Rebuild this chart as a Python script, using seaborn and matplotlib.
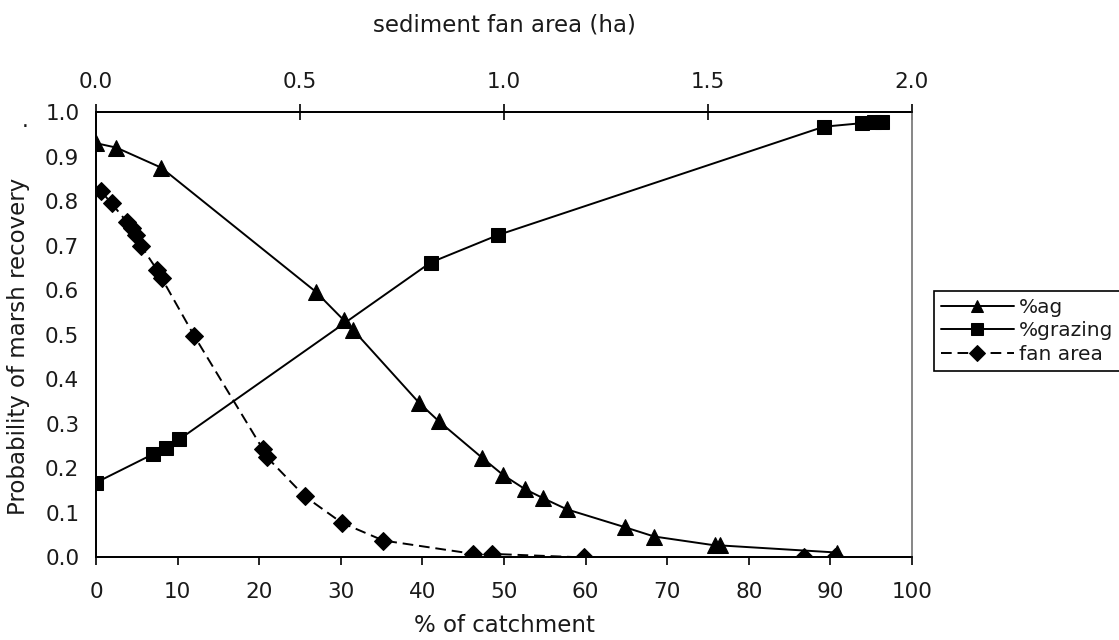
import numpy as np
import pandas as pd
import matplotlib
matplotlib.use("Agg")
import matplotlib.pyplot as plt
import seaborn as sns

# % of catchment -> probability, agricultural land
ag_pct = [0, 2.5, 8.0, 26.9, 30.4, 31.5, 39.6, 42.0, 47.3, 49.9, 52.6, 54.8,
          57.7, 64.8, 68.4, 75.9, 76.5, 90.8]
ag_prob = [0.930, 0.920, 0.875, 0.597, 0.532, 0.511, 0.347, 0.306, 0.224, 0.185,
           0.153, 0.133, 0.108, 0.068, 0.047, 0.027, 0.027, 0.011]

# % of catchment -> probability, grazing land
graz_pct = [0, 7.0, 8.6, 10.2, 41.0, 49.3, 89.2, 93.9, 95.3, 96.3]
graz_prob = [0.168, 0.232, 0.245, 0.265, 0.662, 0.724, 0.967, 0.975, 0.978, 0.978]

# sediment fan area (ha) -> probability
fan_ha = [0.0115, 0.038, 0.075, 0.0875, 0.098, 0.110, 0.150, 0.161, 0.241,
          0.409, 0.418, 0.512, 0.602, 0.704, 0.925, 0.970, 1.197, 1.735, 1.811]
fan_prob = [0.823, 0.795, 0.754, 0.739, 0.724, 0.700, 0.645, 0.627, 0.497,
            0.243, 0.226, 0.137, 0.078, 0.038, 0.008, 0.008, 0.0, 0.0, 0.0]

bottom_ticks = list(range(0, 101, 10))
top_ticks = [0.0, 0.5, 1.0, 1.5, 2.0]
y_ticks = [0.0, 0.1, 0.2, 0.3, 0.4, 0.5, 0.6, 0.7, 0.8, 0.9, 1.0]

sns.set_style("white")
plt.rcParams['font.family'] = ['DejaVu Sans']
TXT = '#1a1a1a'
plt.rcParams['text.color'] = TXT
plt.rcParams['axes.labelcolor'] = TXT
plt.rcParams['xtick.labelcolor'] = TXT
plt.rcParams['ytick.labelcolor'] = TXT
TICK_FS = 15.5
LABEL_FS = 16.5

fig = plt.figure(figsize=(11.19, 6.40), dpi=100)
ax = fig.add_axes([0.0858, 0.129, 0.7292, 0.696])

sns.lineplot(x=ag_pct, y=ag_prob, ax=ax, estimator=None, sort=False, color='black',
             lw=1.4, marker='^', markersize=11, markeredgecolor='black', label='%ag')
sns.lineplot(x=graz_pct, y=graz_prob, ax=ax, estimator=None, sort=False, color='black',
             lw=1.4, marker='s', markersize=10, markeredgecolor='black', label='%grazing')

ax2 = ax.twiny()
sns.lineplot(x=fan_ha, y=fan_prob, ax=ax2, estimator=None, sort=False, color='black',
             lw=1.4, marker='D', markersize=9.5, markeredgecolor='black',
             linestyle=(0, (5.5, 3)), label='fan area')

ax.set_xlim(0, 100)
ax.set_ylim(0, 1.0)
ax2.set_xlim(0, 2.0)
ax2.set_ylim(0, 1.0)

ax.set_xticks(bottom_ticks)
ax.set_xticklabels([str(t) for t in bottom_ticks], fontsize=TICK_FS)
ax.set_yticks(y_ticks)
ax.set_yticklabels([f"{t:.1f}" for t in y_ticks], fontsize=TICK_FS)
ax2.set_xticks(top_ticks)
ax2.set_xticklabels([f"{t:.1f}" for t in top_ticks], fontsize=TICK_FS)

ax.tick_params(axis='x', direction='out', length=6, width=1.2, color='black', pad=12)
ax.tick_params(axis='y', direction='out', length=6, width=1.2, color='black', pad=6)
ax2.tick_params(axis='x', direction='inout', length=11, width=1.2, color='black', pad=9)

for a in (ax, ax2):
    for s in ['left', 'bottom', 'top']:
        a.spines[s].set_color('black')
        a.spines[s].set_linewidth(1.3)
    a.spines['right'].set_color('#888888')
    a.spines['right'].set_linewidth(1.3)

ax.set_xlabel('% of catchment', fontsize=LABEL_FS)
ax.xaxis.set_label_coords(0.5, -0.128)
ax.set_ylabel('Probability of marsh recovery', fontsize=LABEL_FS)
ax.yaxis.set_label_coords(-0.081, 0.474)
ax2.set_xlabel('sediment fan area (ha)', fontsize=LABEL_FS)
ax2.xaxis.set_label_coords(0.5, 1.18)
fig.text(25 / 1119, 1 - 127 / 640, '.', fontsize=TICK_FS, ha='center', va='baseline')

h1, l1 = ax.get_legend_handles_labels()
h2, l2 = ax2.get_legend_handles_labels()
if ax.get_legend():
    ax.get_legend().remove()
if ax2.get_legend():
    ax2.get_legend().remove()
leg = fig.legend(h1 + h2, l1 + l2, loc='upper left',
                 bbox_to_anchor=(0.8347, 0.0, 0.2, 1 - 291 / 640), mode='expand',
                 fontsize=14.5, frameon=True, fancybox=False, framealpha=1,
                 edgecolor='black', handlelength=3.6, handletextpad=0.25,
                 borderpad=0.35, labelspacing=0.22, borderaxespad=0)
leg.get_frame().set_linewidth(1.2)
for h, ms in zip(leg.legend_handles, [9, 9, 8.5]):
    h.set_markersize(ms)

plt.savefig('out.png', dpi=100)
